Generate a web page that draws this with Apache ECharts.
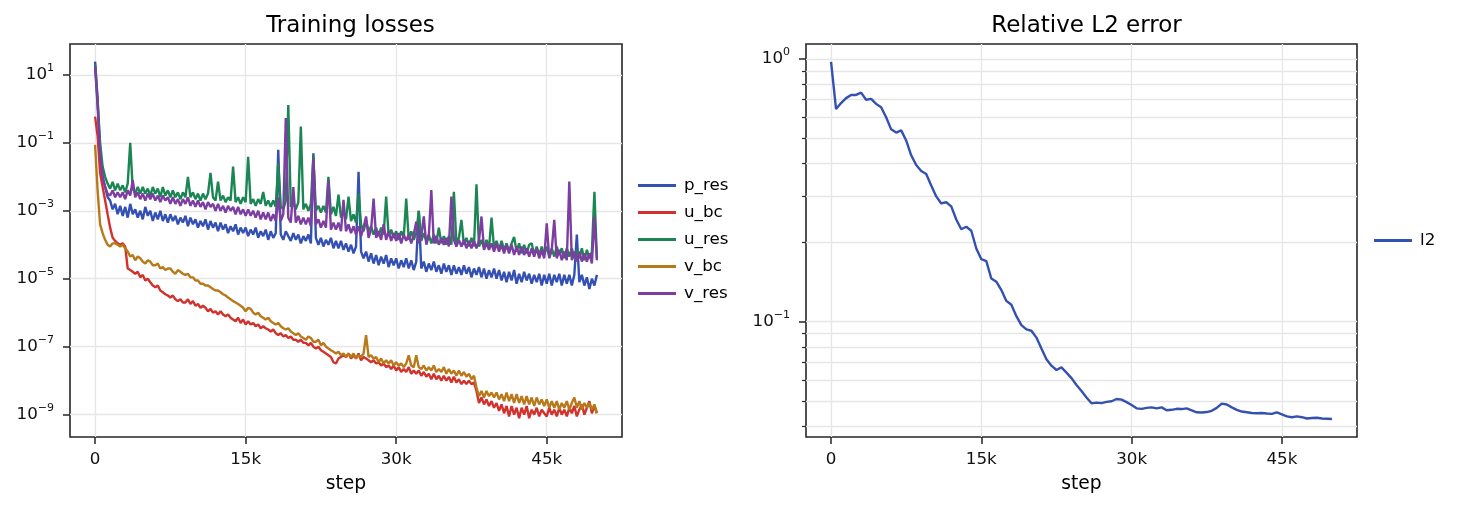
<!DOCTYPE html>
<html>
<head>
<meta charset="utf-8">
<script src="https://cdn.jsdelivr.net/npm/echarts@6.0.0/dist/echarts.min.js"></script>
<style>
body { margin: 0; background: #fff; }
#chart { width: 1457px; height: 512px; }
</style>
</head>
<body>
<div id="chart"></div>
<script>
// loss log: one point every 250 steps
var steps = [0,250,500,750,1000,1250,1500,1750,2000,2250,2500,2750,3000,3250,3500,3750,4000,4250,4500,4750,
	5000,5250,5500,5750,6000,6250,6500,6750,7000,7250,7500,7750,8000,8250,8500,8750,9000,9250,9500,9750,
	10000,10250,10500,10750,11000,11250,11500,11750,12000,12250,12500,12750,13000,13250,13500,13750,14000,14250,14500,14750,
	15000,15250,15500,15750,16000,16250,16500,16750,17000,17250,17500,17750,18000,18250,18500,18750,19000,19250,19500,19750,
	20000,20250,20500,20750,21000,21250,21500,21750,22000,22250,22500,22750,23000,23250,23500,23750,24000,24250,24500,24750,
	25000,25250,25500,25750,26000,26250,26500,26750,27000,27250,27500,27750,28000,28250,28500,28750,29000,29250,29500,29750,
	30000,30250,30500,30750,31000,31250,31500,31750,32000,32250,32500,32750,33000,33250,33500,33750,34000,34250,34500,34750,
	35000,35250,35500,35750,36000,36250,36500,36750,37000,37250,37500,37750,38000,38250,38500,38750,39000,39250,39500,39750,
	40000,40250,40500,40750,41000,41250,41500,41750,42000,42250,42500,42750,43000,43250,43500,43750,44000,44250,44500,44750,
	45000,45250,45500,45750,46000,46250,46500,46750,47000,47250,47500,47750,48000,48250,48500,48750,49000,49250,49500,49750,50000];

var p_res = [24.5,2.0,5.0e-2,1.0e-2,5.0e-3,2.5e-3,2.0e-3,1.1e-3,1.6e-3,7.9e-4,
	1.4e-3,7.1e-4,1.3e-3,6.3e-4,1.6e-3,7.9e-4,1.1e-3,6.3e-4,1.0e-3,5.6e-4,
	1.3e-3,7.1e-4,1.0e-3,5.0e-4,8.9e-4,5.6e-4,1.0e-3,5.0e-4,7.9e-4,4.5e-4,
	7.9e-4,5.0e-4,7.1e-4,4.0e-4,6.3e-4,4.5e-4,7.1e-4,3.5e-4,6.3e-4,4.0e-4,
	5.6e-4,3.2e-4,5.0e-4,3.5e-4,5.6e-4,2.8e-4,5.0e-4,3.2e-4,4.5e-4,2.5e-4,
	4.5e-4,2.8e-4,4.0e-4,2.2e-4,3.5e-4,2.5e-4,4.0e-4,2.0e-4,3.2e-4,2.2e-4,
	3.2e-4,1.8e-4,2.8e-4,2.0e-4,3.2e-4,1.6e-4,2.5e-4,1.8e-4,2.8e-4,1.4e-4,
	2.5e-4,1.6e-4,2.2e-4,6.2e-2,2.0e-4,1.4e-4,2.5e-4,1.8e-4,1.3e-4,2.2e-4,
	1.4e-4,2.0e-4,1.1e-4,1.8e-4,1.3e-4,2.0e-4,1.1e-4,4.9e-2,1.6e-4,1.0e-4,
	1.6e-4,8.9e-5,1.4e-4,1.0e-4,1.6e-4,7.9e-5,1.3e-4,7.9e-5,1.3e-4,7.1e-5,
	1.1e-4,6.3e-5,1.0e-4,5.6e-5,8.9e-5,1.4e-2,6.3e-5,4.0e-5,6.3e-5,3.2e-5,
	5.6e-5,2.8e-5,5.0e-5,2.5e-5,4.5e-5,2.8e-5,5.0e-5,2.2e-5,4.0e-5,2.5e-5,
	4.0e-5,2.0e-5,3.5e-5,2.2e-5,4.0e-5,2.0e-5,3.5e-5,1.8e-5,3.2e-5,1.0e-3,
	2.0e-5,3.2e-5,1.6e-5,2.8e-5,1.8e-5,3.2e-5,1.6e-5,2.5e-5,1.4e-5,2.8e-5,
	1.6e-5,2.5e-5,1.3e-5,2.5e-5,1.4e-5,2.2e-5,1.3e-5,2.5e-5,1.4e-5,2.2e-5,
	1.1e-5,2.0e-5,1.3e-5,2.2e-5,1.1e-5,2.0e-5,1.0e-5,1.8e-5,1.1e-5,2.0e-5,
	1.0e-5,1.8e-5,8.9e-6,1.6e-5,7.9e-6,1.6e-5,8.9e-6,1.8e-5,7.1e-6,1.4e-5,
	7.9e-6,1.6e-5,8.9e-6,1.4e-5,7.1e-6,1.3e-5,7.9e-6,1.4e-5,6.3e-6,1.3e-5,
	7.1e-6,1.4e-5,6.3e-6,1.3e-5,7.9e-6,1.4e-5,6.3e-6,1.3e-5,7.1e-6,1.3e-5,
	6.3e-6,1.3e-5,2.0e-4,7.9e-6,1.3e-5,6.3e-6,1.1e-5,5.0e-6,1.0e-5,6.3e-6,1.3e-5];

var u_bc = [0.59,0.16,1.3e-2,5.0e-3,2.0e-3,7.9e-4,3.2e-4,1.6e-4,1.3e-4,1.1e-4,
	1.0e-4,1.1e-4,8.9e-5,2.0e-5,1.8e-5,1.6e-5,1.4e-5,1.6e-5,1.1e-5,1.3e-5,
	8.9e-6,1.0e-5,7.9e-6,6.3e-6,5.6e-6,6.3e-6,4.5e-6,4.0e-6,3.5e-6,3.2e-6,
	2.8e-6,3.2e-6,2.5e-6,2.2e-6,2.5e-6,2.0e-6,2.0e-6,2.5e-6,1.8e-6,2.2e-6,
	1.6e-6,1.8e-6,1.4e-6,1.6e-6,1.4e-6,1.1e-6,1.3e-6,1.0e-6,1.1e-6,8.9e-7,
	1.1e-6,8.9e-7,7.9e-7,8.9e-7,7.1e-7,6.3e-7,5.6e-7,7.1e-7,5.0e-7,6.3e-7,
	4.5e-7,5.6e-7,4.5e-7,5.0e-7,4.0e-7,4.5e-7,3.5e-7,4.0e-7,3.5e-7,3.2e-7,
	2.8e-7,3.2e-7,2.5e-7,2.2e-7,2.5e-7,2.0e-7,2.2e-7,1.8e-7,2.0e-7,1.6e-7,
	1.6e-7,1.4e-7,1.6e-7,1.3e-7,1.3e-7,1.1e-7,1.3e-7,1.0e-7,8.9e-8,1.0e-7,
	7.9e-8,7.1e-8,6.3e-8,5.6e-8,5.0e-8,3.5e-8,3.2e-8,4.5e-8,5.0e-8,5.6e-8,
	5.0e-8,6.3e-8,4.5e-8,5.6e-8,4.5e-8,6.3e-8,4.0e-8,5.0e-8,4.5e-8,4.0e-8,
	3.5e-8,4.0e-8,3.2e-8,3.5e-8,2.8e-8,3.2e-8,2.5e-8,2.8e-8,2.2e-8,2.8e-8,
	2.0e-8,2.5e-8,1.8e-8,2.2e-8,1.8e-8,2.5e-8,1.6e-8,2.0e-8,1.6e-8,2.0e-8,
	1.4e-8,1.8e-8,1.3e-8,1.6e-8,1.1e-8,1.6e-8,1.1e-8,1.4e-8,1.0e-8,1.4e-8,
	1.0e-8,1.3e-8,8.9e-9,1.3e-8,8.9e-9,1.1e-8,7.9e-9,1.0e-8,7.9e-9,1.0e-8,
	7.9e-9,8.9e-9,5.0e-9,2.2e-9,3.2e-9,2.0e-9,2.8e-9,1.8e-9,2.5e-9,1.6e-9,
	2.2e-9,1.3e-9,2.0e-9,1.1e-9,1.8e-9,8.9e-10,1.8e-9,1.0e-9,1.6e-9,7.9e-10,
	1.6e-9,1.0e-9,1.8e-9,7.9e-10,1.4e-9,1.0e-9,1.6e-9,8.9e-10,1.4e-9,1.1e-9,
	8.9e-10,1.6e-9,1.0e-9,1.4e-9,8.9e-10,1.6e-9,1.0e-9,1.4e-9,8.9e-10,1.6e-9,
	1.1e-9,1.8e-9,8.9e-10,1.4e-9,2.0e-9,1.0e-9,1.6e-9,2.5e-9,1.1e-9,1.8e-9,1.1e-9];

var u_res = [20,1.6,0.1,2.0e-2,1.0e-2,6.3e-3,4.5e-3,7.1e-3,4.0e-3,6.3e-3,
	4.0e-3,5.6e-3,3.5e-3,6.3e-3,1.0e-1,4.5e-3,3.2e-3,5.0e-3,3.2e-3,5.0e-3,
	3.2e-3,4.5e-3,2.8e-3,5.0e-3,3.2e-3,4.5e-3,2.5e-3,5.0e-3,2.8e-3,4.0e-3,
	2.5e-3,4.0e-3,2.5e-3,3.5e-3,2.2e-3,3.5e-3,2.5e-3,1.0e-2,2.5e-3,3.5e-3,
	2.2e-3,3.2e-3,2.0e-3,3.2e-3,2.2e-3,3.2e-3,1.3e-2,2.5e-3,2.0e-3,7.2e-3,
	2.0e-3,2.8e-3,1.8e-3,2.5e-3,2.0e-3,2.0e-2,1.8e-3,2.5e-3,1.6e-3,2.5e-3,
	1.8e-3,3.9e-2,1.6e-3,2.2e-3,1.4e-3,2.2e-3,1.6e-3,3.6e-3,1.4e-3,2.0e-3,
	1.3e-3,2.0e-3,1.3e-3,2.5e-2,1.4e-3,1.1e-3,2.0e-3,1.3,1.3e-3,1.8e-3,
	1.1e-3,1.8e-3,0.30,1.1e-3,1.6e-3,1.0e-3,1.6e-3,4.0e-2,1.0e-3,1.4e-3,
	8.9e-4,1.4e-3,8.9e-4,1.0e-2,7.9e-4,1.3e-3,7.1e-4,3.0e-3,6.3e-4,1.0e-3,
	5.6e-4,2.6e-3,5.0e-4,7.9e-4,4.5e-4,3.2e-3,4.0e-4,2.5e-4,5.0e-4,2.5e-4,
	3.5e-4,2.0e-4,3.2e-4,1.8e-4,3.2e-4,2.0e-4,2.6e-3,1.8e-4,2.8e-4,1.6e-4,
	2.5e-4,1.4e-4,2.5e-4,1.6e-4,2.3e-3,1.4e-4,2.5e-4,1.4e-4,2.2e-4,1.0e-3,
	1.3e-4,2.2e-4,1.3e-4,2.0e-4,1.1e-4,2.0e-4,1.1e-4,3.2e-4,1.1e-4,1.8e-4,
	1.0e-4,1.8e-4,1.0e-4,3.6e-3,1.1e-4,1.6e-4,5.4e-4,1.0e-4,1.6e-4,8.9e-5,
	1.6e-4,8.9e-5,6.0e-3,8.9e-5,1.4e-4,7.9e-5,1.4e-4,7.9e-5,6.3e-4,7.9e-5,
	1.3e-4,7.1e-5,1.3e-4,7.1e-5,1.1e-4,6.3e-5,1.1e-4,1.7e-4,6.3e-5,1.1e-4,
	5.6e-5,1.0e-4,5.6e-5,1.0e-4,1.1e-4,5.0e-5,8.9e-5,5.0e-5,8.9e-5,5.0e-5,
	8.9e-5,4.5e-5,7.9e-5,4.5e-5,8.9e-5,5.0e-5,7.9e-5,4.0e-5,7.9e-5,4.5e-5,
	7.9e-5,4.0e-5,7.1e-5,4.0e-5,7.9e-5,3.5e-5,7.1e-5,4.0e-5,6.3e-5,3.6e-3,4.0e-5];

var v_bc = [8.7e-2,4.0e-3,4.0e-4,2.2e-4,1.4e-4,1.0e-4,8.9e-5,1.1e-4,1.1e-4,1.0e-4,
	8.9e-5,1.0e-4,7.9e-5,6.3e-5,4.5e-5,5.0e-5,3.5e-5,4.5e-5,4.0e-5,3.2e-5,
	2.8e-5,3.5e-5,3.2e-5,2.5e-5,2.5e-5,2.8e-5,2.0e-5,2.2e-5,1.8e-5,2.0e-5,
	2.0e-5,1.6e-5,1.4e-5,1.8e-5,1.6e-5,1.4e-5,1.3e-5,1.4e-5,1.1e-5,1.1e-5,
	8.9e-6,8.9e-6,7.1e-6,7.1e-6,6.3e-6,6.3e-6,5.6e-6,5.0e-6,4.5e-6,4.5e-6,
	4.0e-6,3.5e-6,3.2e-6,2.8e-6,2.5e-6,2.2e-6,2.0e-6,1.8e-6,1.6e-6,1.4e-6,
	1.1e-6,1.4e-6,1.3e-6,1.0e-6,8.9e-7,1.0e-6,7.9e-7,7.1e-7,6.3e-7,7.1e-7,
	5.6e-7,5.0e-7,4.5e-7,5.0e-7,4.0e-7,3.5e-7,3.2e-7,3.5e-7,2.8e-7,2.5e-7,
	2.2e-7,2.5e-7,2.0e-7,1.8e-7,1.6e-7,2.0e-7,1.8e-7,1.4e-7,1.4e-7,1.6e-7,
	1.1e-7,1.3e-7,1.0e-7,8.9e-8,7.9e-8,7.1e-8,6.3e-8,7.1e-8,5.6e-8,6.3e-8,
	5.0e-8,6.3e-8,5.0e-8,6.3e-8,4.5e-8,5.6e-8,5.0e-8,6.3e-8,2.2e-7,5.0e-8,
	5.6e-8,4.5e-8,5.0e-8,3.5e-8,4.5e-8,3.2e-8,4.0e-8,3.2e-8,4.0e-8,2.8e-8,
	3.5e-8,2.8e-8,3.2e-8,2.5e-8,3.2e-8,5.6e-8,2.8e-8,2.5e-8,5.6e-8,2.5e-8,
	2.2e-8,2.8e-8,2.0e-8,2.5e-8,2.0e-8,2.8e-8,1.8e-8,2.2e-8,1.8e-8,2.5e-8,
	1.6e-8,2.2e-8,1.6e-8,2.0e-8,1.4e-8,2.0e-8,1.4e-8,1.8e-8,1.3e-8,1.6e-8,
	1.1e-8,1.4e-8,6.3e-9,3.5e-9,5.0e-9,3.2e-9,5.0e-9,3.5e-9,4.5e-9,3.2e-9,
	4.5e-9,2.8e-9,4.0e-9,2.5e-9,4.5e-9,2.5e-9,4.0e-9,2.2e-9,4.0e-9,2.2e-9,
	3.5e-9,2.0e-9,3.5e-9,2.0e-9,3.2e-9,1.8e-9,3.2e-9,2.0e-9,2.8e-9,1.8e-9,
	2.8e-9,1.6e-9,2.5e-9,1.6e-9,2.5e-9,1.4e-9,2.2e-9,1.6e-9,2.5e-9,1.4e-9,
	2.2e-9,3.2e-9,1.6e-9,2.5e-9,1.4e-9,2.2e-9,1.6e-9,2.2e-9,1.4e-9,2.0e-9,1.1e-9];

var v_res = [17.8,1.26,4.0e-2,1.0e-2,5.0e-3,3.2e-3,2.8e-3,4.0e-3,2.5e-3,3.5e-3,
	2.5e-3,3.5e-3,2.2e-3,4.0e-3,2.8e-3,7.9e-3,2.5e-3,3.5e-3,2.2e-3,3.2e-3,
	2.0e-3,3.2e-3,2.2e-3,3.2e-3,2.0e-3,2.8e-3,1.8e-3,2.8e-3,2.0e-3,2.5e-3,
	1.6e-3,2.5e-3,1.6e-3,2.2e-3,1.4e-3,2.2e-3,1.6e-3,2.5e-3,1.4e-3,2.0e-3,
	1.3e-3,2.0e-3,1.3e-3,1.8e-3,1.1e-3,1.8e-3,1.3e-3,1.6e-3,1.0e-3,1.6e-3,
	1.0e-3,1.4e-3,8.9e-4,1.4e-3,1.0e-3,1.3e-3,7.9e-4,1.3e-3,7.9e-4,1.1e-3,
	7.1e-4,1.1e-3,7.1e-4,1.0e-3,6.3e-4,1.0e-3,5.6e-4,8.9e-4,5.6e-4,8.9e-4,
	5.0e-4,7.9e-4,5.0e-4,2.5e-3,5.0e-4,7.9e-4,0.54,6.3e-4,4.5e-4,5.0e-3,
	4.5e-4,7.1e-4,4.0e-4,6.3e-4,4.0e-4,6.3e-4,3.5e-4,3.5e-2,4.0e-4,5.6e-4,
	3.2e-4,5.0e-4,3.2e-4,7.9e-3,2.8e-4,4.5e-4,2.8e-4,4.5e-4,2.5e-4,2.1e-3,
	2.5e-4,4.0e-4,2.2e-4,3.5e-4,2.0e-4,3.5e-4,1.8e-4,3.2e-4,6.8e-4,1.6e-4,
	2.8e-4,2.3e-3,1.6e-4,2.5e-4,1.4e-4,4.0e-4,1.4e-4,2.5e-4,1.3e-4,2.2e-4,
	1.3e-4,2.2e-4,1.1e-4,2.0e-4,1.3e-4,2.0e-4,1.1e-4,2.0e-4,4.8e-4,1.1e-4,
	1.8e-4,6.8e-4,1.0e-4,1.8e-4,4.1e-3,1.1e-4,1.8e-4,1.0e-4,1.6e-4,1.0e-4,
	1.6e-4,8.9e-5,2.6e-3,1.4e-4,8.9e-5,1.4e-4,8.9e-5,1.4e-4,7.9e-5,1.3e-4,
	7.9e-5,1.3e-4,7.9e-5,1.3e-4,6.8e-4,7.1e-5,1.1e-4,7.1e-5,1.1e-4,6.3e-5,
	1.1e-4,6.3e-5,1.0e-4,5.6e-5,1.0e-4,5.6e-5,1.0e-4,5.0e-5,8.9e-5,5.0e-5,
	8.9e-5,5.0e-5,7.9e-5,4.5e-5,7.9e-5,4.5e-5,7.9e-5,4.0e-5,7.1e-5,4.0e-5,
	4.3e-4,4.0e-5,7.1e-5,5.4e-4,4.0e-5,7.1e-5,3.5e-5,6.3e-5,3.5e-5,7.2e-3,
	3.5e-5,6.3e-5,3.2e-5,6.3e-5,3.2e-5,5.6e-5,3.2e-5,5.6e-5,2.8e-5,6.8e-4,3.5e-5];

// relative L2 error, every 500 steps
var l2Steps = [0,500,1000,1500,2000,2500,3000,3500,4000,4500,5000,5500,6000,6500,7000,7500,8000,8500,9000,9500,
	10000,10500,11000,11500,12000,12500,13000,13500,14000,14500,15000,15500,16000,16500,17000,17500,18000,18500,19000,19500,
	20000,20500,21000,21500,22000,22500,23000,23500,24000,24500,25000,25500,26000,26500,27000,27500,28000,28500,29000,29500,
	30000,30500,31000,31500,32000,32500,33000,33500,34000,34500,35000,35500,36000,36500,37000,37500,38000,38500,39000,39500,
	40000,40500,41000,41500,42000,42500,43000,43500,44000,44500,45000,45500,46000,46500,47000,47500,48000,48500,49000,49500,50000];

var l2 = [0.976,0.645,0.68,0.71,0.73,0.73,0.745,0.70,0.705,0.675,
	0.655,0.60,0.54,0.525,0.535,0.49,0.43,0.395,0.375,0.365,
	0.33,0.30,0.282,0.285,0.275,0.245,0.225,0.23,0.222,0.19,
	0.173,0.17,0.146,0.142,0.132,0.12,0.116,0.105,0.097,0.0935,
	0.0924,0.087,0.079,0.072,0.068,0.0655,0.067,0.064,0.061,0.0574,
	0.0545,0.0515,0.0489,0.0492,0.049,0.0495,0.0498,0.0508,0.0505,0.0494,
	0.0482,0.0468,0.0466,0.047,0.0472,0.0468,0.0472,0.046,0.0462,0.0466,
	0.0465,0.0468,0.046,0.0452,0.0451,0.0453,0.0458,0.047,0.0488,0.0484,
	0.0472,0.0462,0.0455,0.0452,0.0449,0.0448,0.0449,0.0447,0.0446,0.0452,
	0.0444,0.0436,0.0433,0.0436,0.0433,0.0428,0.043,0.0431,0.0428,0.0427,0.0426];

var stepTicks = [0, 15000, 30000, 45000];
var lossTicks = [1e-9, 1e-7, 1e-5, 1e-3, 1e-1, 10];
var l2Ticks = [0.1, 1];
var l2Minor = [0.04, 0.05, 0.06, 0.07, 0.08, 0.09, 0.2, 0.3, 0.4, 0.5, 0.6, 0.7, 0.8, 0.9];

var lossNames = ['p_res', 'u_bc', 'u_res', 'v_bc', 'v_res'];
var lossData = [p_res, u_bc, u_res, v_bc, v_res];
var lossColors = ['#3451b2', '#d2322d', '#1b8653', '#b8791a', '#7c3ea0'];

var FONT = 'DejaVu Sans';
var GRIDC = '#e6e6e6';
var INK = '#262626';

function pairs(xs, ys){
	var out = [];
	for (var i = 0; i < ys.length; i++) out.push([xs[i], ys[i]]);
	return out;
}

function stepLabel(v){
	return v === 0 ? '0' : (v / 1000) + 'k';
}

function powLabel(v){
	var e = Math.round(Math.log10(v));
	return '{b|10}{s|' + (e < 0 ? '\u2212' + (-e) : e) + '}';
}

function xAxisFor(idx){
	return {
		type: 'value', gridIndex: idx, min: -2500, max: 52500,
		name: 'step', nameLocation: 'middle', nameGap: 38,
		nameTextStyle: { fontFamily: FONT, fontSize: 18.7, color: '#000' },
		axisLine: { show: false, onZero: false },
		axisTick: { show: true, inside: false, length: 7, customValues: stepTicks, lineStyle: { color: INK, width: 1.5 } },
		axisLabel: { customValues: stepTicks, formatter: stepLabel, margin: 14, fontFamily: FONT, fontSize: 16.7, color: '#111' },
		splitLine: { show: true, lineStyle: { color: GRIDC, width: 1.3 } }
	};
}

function yLogAxis(idx, min, max, ticks, tickLen, labels){
	return {
		type: 'log', gridIndex: idx, min: min, max: max, position: 'left', offset: 0,
		axisLine: { show: false, onZero: false },
		axisTick: { show: true, inside: false, length: tickLen, customValues: ticks, lineStyle: { color: INK, width: tickLen > 5 ? 1.5 : 1.2 } },
		axisLabel: labels ? {
			customValues: ticks, formatter: powLabel, margin: 16, color: '#111',
			rich: {
				b: { fontFamily: FONT, fontSize: 16.7, lineHeight: 24, verticalAlign: 'middle', color: '#111' },
				s: { fontFamily: FONT, fontSize: 11, lineHeight: 12, verticalAlign: 'top', color: '#111' }
			}
		} : { show: false },
		splitLine: { show: true, lineStyle: { color: GRIDC, width: 1.3 } }
	};
}

function initCharts(elem){
	var myChart = echarts.init(document.getElementById(elem));
	var series = [];
	for (var i = 0; i < lossNames.length; i++) {
		series.push({
			name: lossNames[i], type: 'line', xAxisIndex: 0, yAxisIndex: 0,
			data: pairs(steps, lossData[i]), showSymbol: false, symbol: 'none',
			lineStyle: { width: 2.4, color: lossColors[i] }, itemStyle: { color: lossColors[i] }
		});
	}
	series.push({
		name: 'l2', type: 'line', xAxisIndex: 1, yAxisIndex: 1,
		data: pairs(l2Steps, l2), showSymbol: false, symbol: 'none',
		lineStyle: { width: 2.4, color: '#3451b2' }, itemStyle: { color: '#3451b2' }
	});

	var legendText = { fontFamily: FONT, fontSize: 16.7, color: '#000', padding: [0, 0, 0, 3] };
	option = {
		animation: false,
		backgroundColor: '#fff',
		title: [
			{ text: 'Training losses', left: 345.5, top: 10, textAlign: 'center',
			  textStyle: { fontFamily: FONT, fontSize: 23, fontWeight: 'normal', color: '#000' } },
			{ text: 'Relative L2 error', left: 1081.5, top: 10, textAlign: 'center',
			  textStyle: { fontFamily: FONT, fontSize: 23, fontWeight: 'normal', color: '#000' } }
		],
		legend: [
			{ data: lossNames, orient: 'vertical', left: 633, top: 172, icon: 'rect',
			  itemWidth: 38, itemHeight: 3, itemGap: 10, textStyle: legendText },
			{ data: ['l2'], orient: 'vertical', left: 1369, top: 227, icon: 'rect',
			  itemWidth: 38, itemHeight: 3, itemGap: 10, textStyle: legendText }
		],
		grid: [
			{ left: 70, top: 44, width: 552, height: 393, show: true, borderColor: INK, borderWidth: 1.6, backgroundColor: 'transparent' },
			{ left: 806, top: 44, width: 551, height: 393, show: true, borderColor: INK, borderWidth: 1.6, backgroundColor: 'transparent' }
		],
		xAxis: [ xAxisFor(0), xAxisFor(1) ],
		yAxis: [
			yLogAxis(0, 2.2e-10, 81, lossTicks, 7, true),
			yLogAxis(1, 0.0364, 1.141, l2Ticks, 7, true),
			yLogAxis(1, 0.0364, 1.141, l2Minor, 4, false)
		],
		series: series
	};
	myChart.setOption(option);
}

initCharts('chart');
</script>
</body>
</html>
